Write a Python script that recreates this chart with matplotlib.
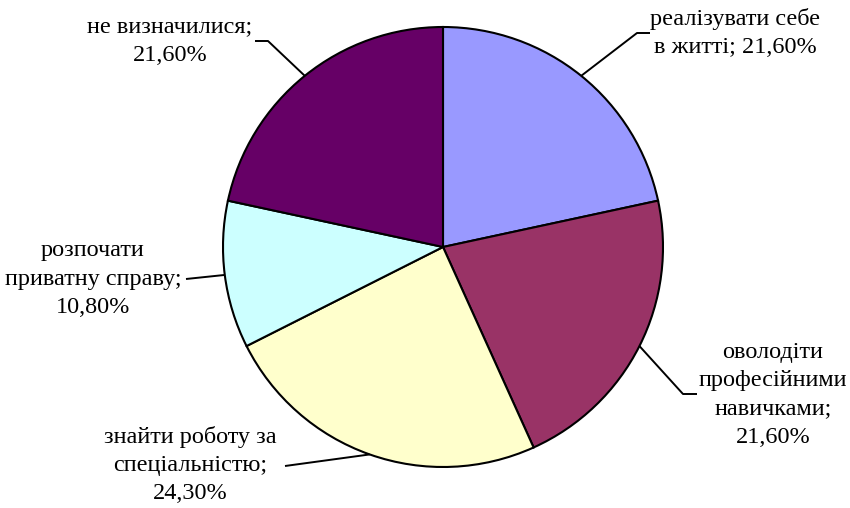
import numpy as np
import matplotlib
matplotlib.use("Agg")
import matplotlib.pyplot as plt

categories = ["реалізувати себе\nв житті; 21,60%",
              "оволодіти\nпрофесійними\nнавичками;\n21,60%",
              "знайти роботу за\nспеціальністю;\n24,30%",
              "розпочати\nприватну справу;\n10,80%",
              "не визначилися;\n21,60%"]
values = [21.6, 21.6, 24.3, 10.8, 21.6]
colors = ["#9999FF", "#993366", "#FFFFCC", "#CCFFFF", "#660066"]

W, H = 850, 508
fig = plt.figure(figsize=(W / 100, H / 100), dpi=100)
ax = fig.add_axes([0, 0, 1, 1])

cx, cy, R = 443, H - 247, 220
wedges, _ = ax.pie(values, colors=colors, startangle=90, counterclock=False,
                   center=(cx, cy), radius=R, frame=True,
                   wedgeprops=dict(edgecolor="black", linewidth=1.5))
ax.set_xlim(0, W)
ax.set_ylim(0, H)
ax.set_aspect("equal")
ax.axis("off")

# layout: (elbow point, line end, text anchor) in pixel coords (top-left origin)
layout = [
    ((637, 33), (650, 33), (735, 33)),
    ((683, 394), (697, 394), (773, 395)),
    ((285, 466), (285, 466), (190, 465)),
    ((186, 279), (186, 279), (93, 279)),
    ((268, 41), (255, 41), (170, 41)),
]

for w, lab, (elb, end, tp) in zip(wedges, categories, layout):
    ang = np.deg2rad((w.theta1 + w.theta2) / 2)
    ex, ey = cx + R * np.cos(ang), cy + R * np.sin(ang)
    xs = [ex, elb[0], end[0]]
    ys = [ey, H - elb[1], H - end[1]]
    ax.plot(xs, ys, color="black", lw=1.4, solid_capstyle="butt")
    ax.text(tp[0], H - tp[1], lab, ha="center", va="center", multialignment="center",
            fontsize=17.5, family="Liberation Serif", linespacing=1.45)

fig.savefig("out.png", dpi=100)
